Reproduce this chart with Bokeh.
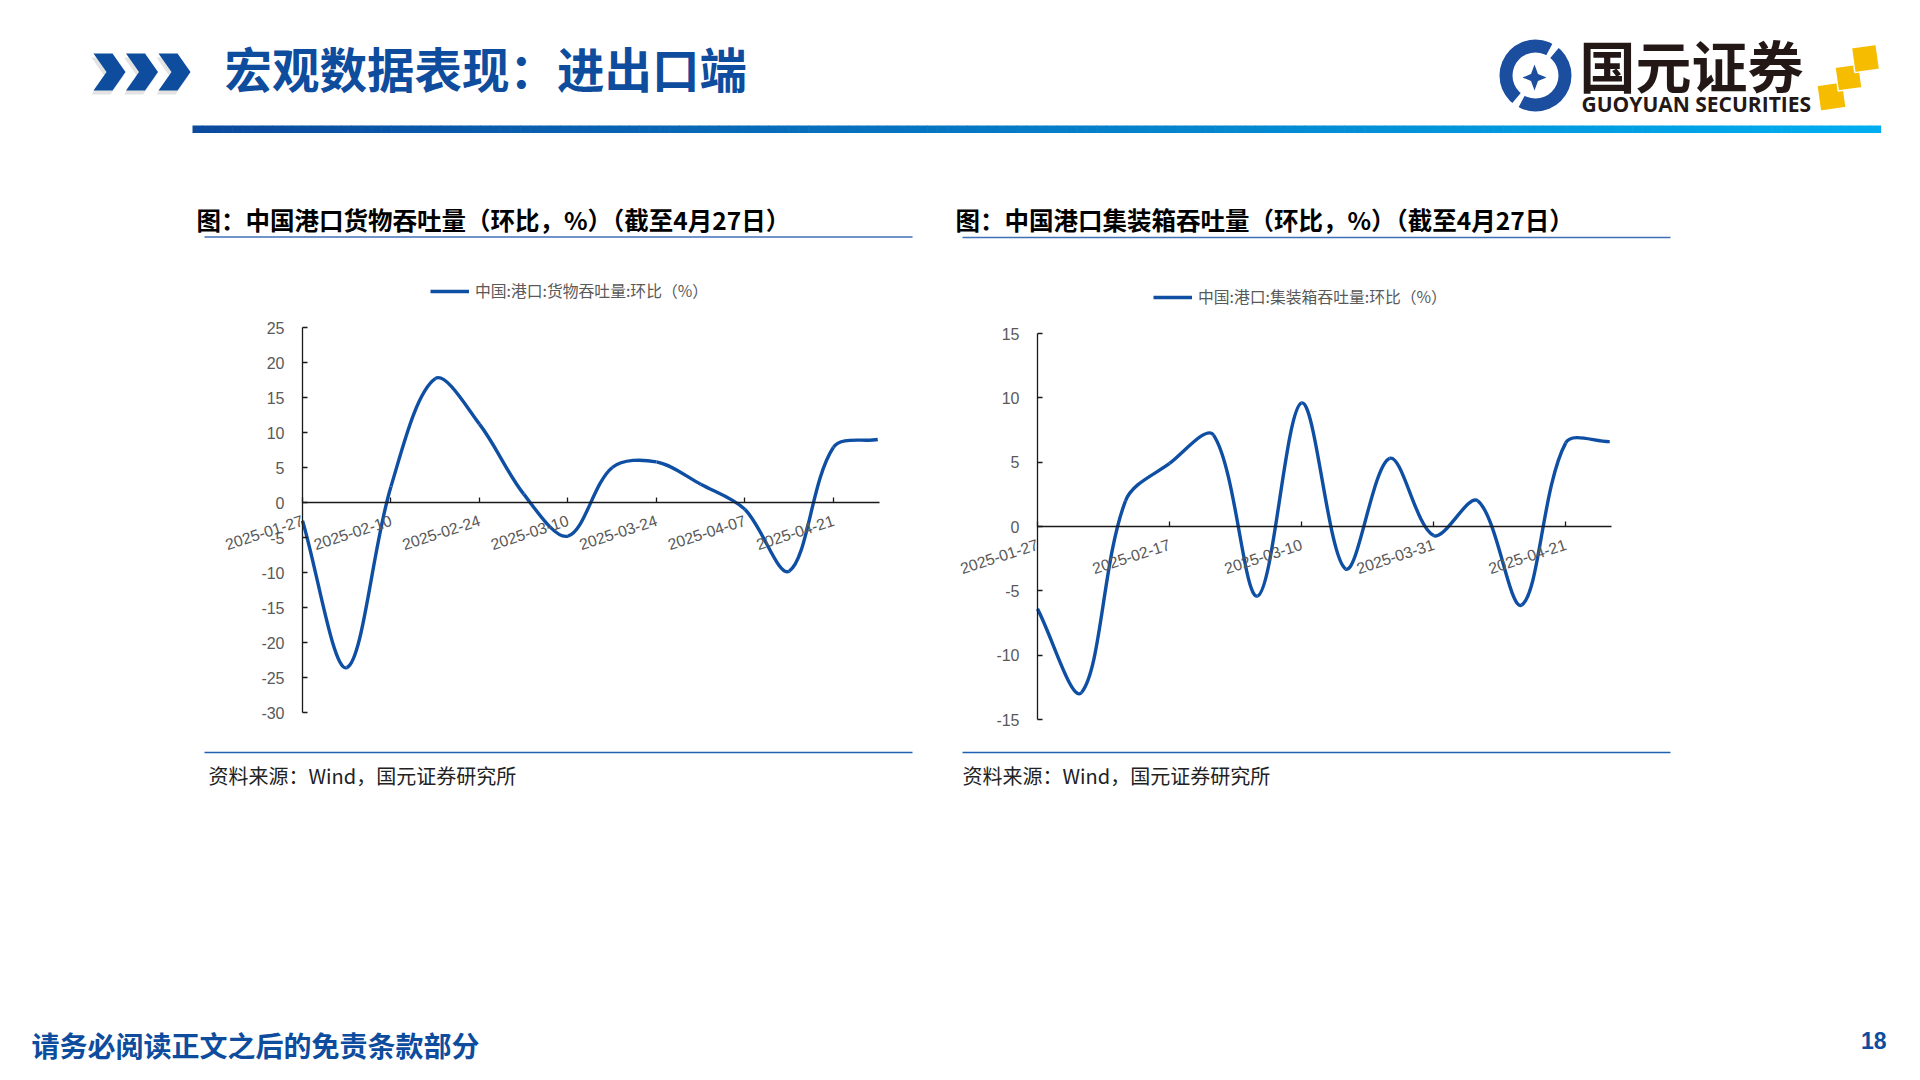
import math
from bokeh.plotting import figure
from bokeh.models import (Range1d, LinearAxis, FixedTicker, Legend, LegendItem,
                          ColumnDataSource, AllLabels)
from bokeh.layouts import column, row
from bokeh.embed import file_html
from bokeh.resources import INLINE
from bokeh.core.properties import value

# ---------------- data ----------------
dates = ["2025-01-27", "2025-02-03", "2025-02-10", "2025-02-17", "2025-02-24",
         "2025-03-03", "2025-03-10", "2025-03-17", "2025-03-24", "2025-03-31",
         "2025-04-07", "2025-04-14", "2025-04-21", "2025-04-28"]
cargo_mom = [-2.6, -23.6, 2.3, 17.7, 11.2, 1.2, -4.8, 5.0, 5.8, 2.6, -1.0, -9.8, 7.9, 9.0]
container_mom = [-6.4, -12.9, 2.0, 4.9, 7.1, -5.4, 9.6, -3.3, 5.3, -0.7, 2.0, -6.1, 6.5, 6.6]
cargo_yticks = [-30, -25, -20, -15, -10, -5, 0, 5, 10, 15, 20, 25]
container_yticks = [-15, -10, -5, 0, 5, 10, 15]
cargo_label_idx = [0, 2, 4, 6, 8, 10, 12]
container_label_idx = [0, 3, 6, 9, 12]
cargo_title = "图：中国港口货物吞吐量（环比，%）（截至4月27日）"
container_title = "图：中国港口集装箱吞吐量（环比，%）（截至4月27日）"
cargo_legend = "中国:港口:货物吞吐量:环比（%）"
container_legend = "中国:港口:集装箱吞吐量:环比（%）"
source_text = "资料来源：Wind，国元证券研究所"
page_title = "宏观数据表现：进出口端"
footer_text = "请务必阅读正文之后的免责条款部分"
page_no = "18"

LINE_BLUE = "#0F4FA3"
DARK_BLUE = "#0E4C9E"
CJK = value("Noto Sans CJK SC")

PAGE_W = 1920
ROW_TOP, ROW_BOT = 245, 748
PAGE_H = 1076


def smooth_segments(ys, px_x, px_y, t=1.0 / 3.0):
    """Bezier control points (distance weighted, like office chart smoothing)."""
    xs = list(range(len(ys)))
    n = len(ys)
    ctrl = []
    for i in range(n):
        p = i - 1 if i > 0 else i
        q = i + 1 if i < n - 1 else i
        d01 = math.hypot((xs[i] - xs[p]) * px_x, (ys[i] - ys[p]) * px_y)
        d12 = math.hypot((xs[q] - xs[i]) * px_x, (ys[q] - ys[i]) * px_y)
        tot = d01 + d12
        s01 = d01 / tot if tot else 0
        s12 = d12 / tot if tot else 0
        dx = xs[q] - xs[p]
        dy = ys[q] - ys[p]
        ctrl.append(((xs[i] - t * s01 * dx, ys[i] - t * s01 * dy),
                     (xs[i] + t * s12 * dx, ys[i] + t * s12 * dy)))
    d = dict(x0=[], y0=[], x1=[], y1=[], cx0=[], cy0=[], cx1=[], cy1=[])
    for i in range(n - 1):
        d["x0"].append(xs[i]); d["y0"].append(ys[i])
        d["x1"].append(xs[i + 1]); d["y1"].append(ys[i + 1])
        d["cx0"].append(ctrl[i][1][0]); d["cy0"].append(ctrl[i][1][1])
        d["cx1"].append(ctrl[i + 1][0][0]); d["cy1"].append(ctrl[i + 1][0][1])
    return d


def make_chart(vals, yticks, label_idx, legend_text, fig_left, fig_w,
               ax_left, ax_right, ax_top, ax_bottom, leg_left, leg_cy):
    """Frame covers the whole figure; the axes are pinned with fixed_location."""
    fig_h = ROW_BOT - ROW_TOP
    xmax = len(vals) - 1 + 0.04
    ymin, ymax = yticks[0], yticks[-1]
    ppx = (ax_right - ax_left) / xmax
    ppy = (ax_bottom - ax_top) / (ymax - ymin)
    x0 = -(ax_left - fig_left) / ppx
    x1 = x0 + fig_w / ppx
    y1 = ymax + (ax_top - ROW_TOP) / ppy
    y0 = ymin - (ROW_BOT - ax_bottom) / ppy
    p = figure(width=fig_w, height=fig_h, x_range=Range1d(x0, x1), y_range=Range1d(y0, y1),
               output_backend="svg", toolbar_location=None, x_axis_type=None, y_axis_type=None,
               min_border=0)
    p.outline_line_color = None
    p.background_fill_color = "white"
    p.border_fill_color = "white"

    ya = LinearAxis(ticker=FixedTicker(ticks=yticks, minor_ticks=[]), fixed_location=0,
                    bounds=(ymin, ymax),
                    major_label_overrides={v: str(v) for v in yticks},
                    major_label_policy=AllLabels(),
                    axis_line_color="#1a1a1a", axis_line_width=1.3,
                    major_tick_in=5, major_tick_out=0,
                    major_tick_line_color="#1a1a1a", major_tick_line_width=1.3,
                    minor_tick_line_color=None,
                    major_label_text_font="Liberation Sans",
                    major_label_text_font_size="16px",
                    major_label_text_color="#595959",
                    major_label_standoff=18)
    p.add_layout(ya, "left")

    xa = LinearAxis(ticker=FixedTicker(ticks=label_idx, minor_ticks=[]), fixed_location=0,
                    bounds=(0, xmax),
                    major_label_overrides={i: dates[i] for i in label_idx},
                    major_label_policy=AllLabels(),
                    major_label_orientation=math.radians(18),
                    axis_line_color="#1a1a1a", axis_line_width=1.6,
                    major_tick_in=5, major_tick_out=0,
                    major_tick_line_color="#1a1a1a", major_tick_line_width=1.3,
                    minor_tick_line_color=None,
                    major_label_text_font="Liberation Sans",
                    major_label_text_font_size="15.8px",
                    major_label_text_color="#595959",
                    major_label_standoff=17)
    p.add_layout(xa, "below")

    seg = smooth_segments(vals, ppx, ppy)
    r = p.bezier(x0="x0", y0="y0", x1="x1", y1="y1", cx0="cx0", cy0="cy0", cx1="cx1", cy1="cy1",
                 source=ColumnDataSource(seg), line_color=LINE_BLUE, line_width=3.4)

    leg = Legend(items=[LegendItem(label=legend_text, renderers=[r])],
                 location=(leg_left - fig_left, ROW_BOT - leg_cy - 8),
                 orientation="horizontal", border_line_color=None, background_fill_alpha=0,
                 padding=0, margin=0, glyph_width=39, glyph_height=16, label_standoff=6,
                 label_text_font="Noto Sans CJK SC", label_text_font_size="15.8px",
                 label_text_color="#595959", label_height=16)
    p.add_layout(leg)
    return p


# ---------------- header ----------------
hdr = figure(width=PAGE_W, height=ROW_TOP, x_range=Range1d(0, PAGE_W), y_range=Range1d(ROW_TOP, 0),
             output_backend="svg", toolbar_location=None, x_axis_type=None, y_axis_type=None,
             min_border=0)
hdr.outline_line_color = None

# chevrons (with soft shadow)
chev_xs, chev_ys, sh_xs, sh_ys = [], [], [], []
for i in range(3):
    x0 = 93 + i * 32.5
    xs = [x0, x0 + 19, x0 + 32, x0 + 19, x0, x0 + 13]
    ys = [53, 53, 71.5, 90, 90, 71.5]
    chev_xs.append(xs); chev_ys.append(ys)
    sh_xs.append([v - 2 for v in xs]); sh_ys.append([v + 4 for v in ys])
hdr.patches(xs=sh_xs, ys=sh_ys, fill_color="#c8c8c8", fill_alpha=0.5, line_color=None)
hdr.patches(xs=chev_xs, ys=chev_ys, fill_color=DARK_BLUE, line_color=None)

hdr.text(x=[224], y=[67], text=[page_title], text_font=CJK, text_font_size="47.5px",
         text_font_style="bold", text_color=DARK_BLUE, text_baseline="middle", text_align="left")

# gradient bar
n_seg = 170
x_start, x_end = 192, 1880
c0 = (0x0B, 0x4A, 0x9E)
c1 = (0x00, 0xAE, 0xEF)
lefts, rights, cols = [], [], []
for k in range(n_seg):
    f = k / (n_seg - 1)
    lefts.append(x_start + (x_end - x_start) * k / n_seg)
    rights.append(x_start + (x_end - x_start) * (k + 1) / n_seg + 0.6)
    c = tuple(int(round(c0[j] + (c1[j] - c0[j]) * f)) for j in range(3))
    cols.append("#%02x%02x%02x" % c)
hdr.quad(left=lefts, right=rights, top=[125] * n_seg, bottom=[132.5] * n_seg,
         fill_color=cols, line_color=None)

# logo
LOGO_BLUE = "#1B4E9E"
hdr.annulus(x=[1535], y=[75], inner_radius=23, outer_radius=36, fill_color=LOGO_BLUE,
            line_color=None)
hdr.annular_wedge(x=[1535, 1535], y=[75, 75], inner_radius=20, outer_radius=38,
                  start_angle=[math.radians(50), math.radians(230)],
                  end_angle=[math.radians(62), math.radians(242)],
                  fill_color="white", line_color=None)
cx, cy = 1534, 77
star_x = [cx, cx + 3.5, cx + 12, cx + 3.5, cx, cx - 3.5, cx - 12, cx - 3.5]
star_y = [cy - 13, cy - 3.5, cy, cy + 3.5, cy + 13, cy + 3.5, cy, cy - 3.5]
hdr.patch(x=star_x, y=star_y, fill_color=LOGO_BLUE, line_color=None)
hdr.text(x=[1579], y=[63], text=["国元证券"], text_font=CJK, text_font_size="56px",
         text_font_style="bold", text_color="#231815", text_baseline="middle", text_align="left")
hdr.text(x=[1581], y=[103], text=["GUOYUAN SECURITIES"], text_font=value("Open Sans"),
         text_font_size="21px", text_font_style="bold", text_color="#231815",
         text_baseline="middle", text_align="left")
sq_xs, sq_ys = [], []
for (sx, sy, s) in [(1831, 96, 26), (1848, 77, 24), (1865, 58, 25)]:
    a = math.radians(-8)
    pts = [(-s / 2, -s / 2), (s / 2, -s / 2), (s / 2, s / 2), (-s / 2, s / 2)]
    sq_xs.append([sx + px * math.cos(a) - py * math.sin(a) for px, py in pts])
    sq_ys.append([sy + px * math.sin(a) + py * math.cos(a) for px, py in pts])
hdr.patches(xs=sq_xs, ys=sq_ys, fill_color="#F6BD00", line_color="white", line_width=1.5)

# chart titles and underlines
hdr.text(x=[196, 955], y=[219, 219], text=[cargo_title, container_title], text_font=CJK,
         text_font_size="24.5px", text_font_style="bold", text_color="#000000",
         text_baseline="middle", text_align="left")
hdr.segment(x0=[204, 962], y0=[236.5, 237], x1=[912, 1670], y1=[236.5, 237],
            line_color="#3F6FB8", line_width=1.5)

# ---------------- charts ----------------
p1 = make_chart(cargo_mom, cargo_yticks, cargo_label_idx, cargo_legend,
                0, 940, 302, 879, 327, 712, 430, 294)
p2 = make_chart(container_mom, container_yticks, container_label_idx, container_legend,
                940, PAGE_W - 940, 1037, 1611, 333, 719, 1153, 300)

# ---------------- footer ----------------
ftr = figure(width=PAGE_W, height=PAGE_H - ROW_BOT, x_range=Range1d(0, PAGE_W),
             y_range=Range1d(PAGE_H, ROW_BOT),
             output_backend="svg", toolbar_location=None, x_axis_type=None, y_axis_type=None,
             min_border=0)
ftr.outline_line_color = None
ftr.segment(x0=[204, 962], y0=[752, 752], x1=[912, 1670], y1=[752, 752],
            line_color="#2160B0", line_width=1.5)
ftr.text(x=[208, 962], y=[775, 775], text=[source_text, source_text], text_font=CJK,
         text_font_size="20px", text_color="#222222", text_baseline="middle", text_align="left")
ftr.text(x=[31], y=[1044], text=[footer_text], text_font=CJK, text_font_size="28px",
         text_font_style="bold", text_color=DARK_BLUE, text_baseline="middle", text_align="left")
ftr.text(x=[1886], y=[1040], text=[page_no], text_font=value("Liberation Sans"),
         text_font_size="23px", text_font_style="bold", text_color=DARK_BLUE,
         text_baseline="middle", text_align="right")

layout = column(hdr, row(p1, p2, spacing=0), ftr, spacing=0)
open("out.html", "w").write(file_html(layout, INLINE))
